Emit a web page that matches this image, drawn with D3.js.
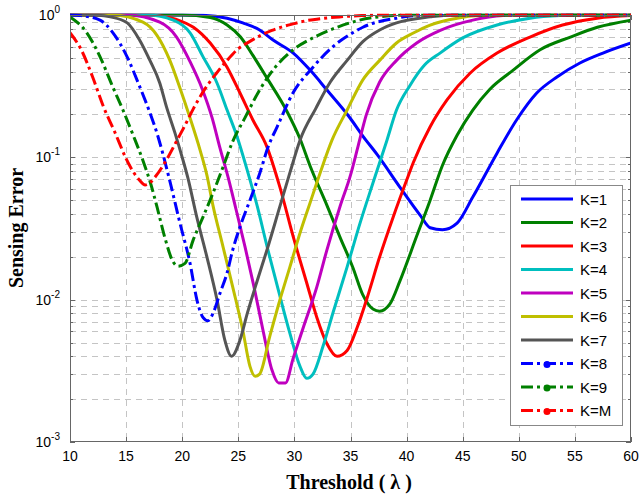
<!DOCTYPE html>
<html><head><meta charset="utf-8">
<script src="https://cdn.jsdelivr.net/npm/d3@7"></script>
<style>body{margin:0;background:#fff}</style>
</head><body>
<svg id="c" width="641" height="497"></svg>
<script>
const seriesNames = ["K=1","K=2","K=3","K=4","K=5","K=6","K=7","K=8","K=9","K=M"];
const seriesColors = ["#0000ff","#008000","#ff0000","#00bfbf","#bf00bf","#bfbf00","#555555","#0000ff","#008000","#ff0000"];
const seriesDashed = [false,false,false,false,false,false,false,true,true,true];
const xTicks = [10,15,20,25,30,35,40,45,50,55,60];
const yTickExps = [0,-1,-2,-3];

const K1 = [[10,1],[20,1],[21.85,0.995],[24,0.95],[25.4,0.88],[26.9,0.785],[28.1,0.667],[29.9,0.54],[31.4,0.41],[32.9,0.297],[34.96,0.189],[36.1,0.141],[37.4,0.104],[39.4,0.0618],[41.2,0.0393],[42.1,0.032],[43.2,0.031],[44.5,0.0345],[45.9,0.0526],[48.06,0.107],[49.8,0.183],[51.6,0.283],[53.4,0.367],[55.45,0.46],[57.5,0.54],[60,0.636]];
const K2 = [[10,1],[20,1],[22.5,0.96],[24,0.85],[25.2,0.70],[26.3,0.52],[27.56,0.36],[29.34,0.21],[30.5,0.135],[31.4,0.087],[32.9,0.046],[34.06,0.0275],[35.2,0.0169],[36.1,0.0108],[37.0,0.0086],[37.6,0.0083],[38.5,0.0093],[39.4,0.0135],[40.9,0.028],[42.1,0.05],[43.2,0.088],[44.5,0.143],[45.9,0.215],[47.4,0.30],[49.5,0.41],[51.9,0.57],[54.6,0.70],[57.0,0.82],[60,0.92]];
const K3 = [[10,1],[17,1],[18,0.99],[19.5,0.93],[21,0.82],[22.5,0.635],[24,0.43],[25.15,0.283],[26.3,0.183],[27.56,0.118],[28.7,0.062],[29.9,0.0276],[31.1,0.0131],[32.0,0.0075],[32.9,0.0049],[33.8,0.0040],[34.7,0.0044],[35.6,0.0064],[36.5,0.0104],[37.6,0.020],[38.8,0.038],[40.0,0.069],[40.6,0.092],[42.1,0.164],[43.6,0.253],[45.65,0.39],[48.06,0.54],[51.0,0.70],[53.9,0.85],[57.0,0.95],[60,0.99]];
const K4 = [[10,1],[16.9,1],[19.2,0.92],[20.7,0.75],[21.85,0.51],[23.1,0.333],[24.0,0.215],[24.9,0.139],[25.8,0.081],[26.7,0.045],[27.6,0.023],[28.45,0.0127],[29.6,0.0058],[30.5,0.0034],[31.1,0.0028],[31.66,0.003],[32.55,0.0047],[33.44,0.0081],[34.7,0.017],[35.85,0.0345],[37.0,0.066],[38.25,0.132],[39.1,0.215],[40.3,0.32],[41.6,0.445],[42.98,0.54],[45.0,0.69],[48.06,0.85],[51.0,0.95],[53.7,0.99],[56,1],[60,1]];
const K5 = [[10,1],[15.1,1],[18.0,0.89],[19.5,0.70],[20.7,0.47],[21.8,0.30],[22.66,0.19],[23.37,0.116],[24.1,0.072],[24.8,0.043],[25.6,0.0235],[26.4,0.0123],[27.2,0.0061],[28.0,0.0032],[28.6,0.0026],[29.2,0.0026],[29.9,0.0039],[30.8,0.0064],[32.0,0.0123],[32.9,0.0224],[34.06,0.045],[35.0,0.075],[35.7,0.122],[36.4,0.198],[37.6,0.338],[39.1,0.48],[40.9,0.636],[43.0,0.78],[45.9,0.92],[48.6,0.99],[51,1],[60,1]];
const K6 = [[10,1],[13.8,1],[16.5,0.89],[17.75,0.72],[18.9,0.48],[19.8,0.307],[20.7,0.189],[21.6,0.112],[22.2,0.075],[22.74,0.046],[23.64,0.0235],[24.5,0.0123],[25.4,0.0061],[26.04,0.0034],[26.5,0.0029],[26.9,0.0030],[27.8,0.0055],[28.7,0.0099],[29.6,0.017],[30.5,0.0294],[31.4,0.048],[32.3,0.078],[33.35,0.132],[34.7,0.215],[36.1,0.35],[37.6,0.48],[39.1,0.636],[40.6,0.747],[42.1,0.85],[44.5,0.95],[46.5,0.99],[49,1],[60,1]];
const K7 = [[10,1],[12.5,0.995],[13.6,0.97],[15.1,0.88],[16.2,0.667],[17.1,0.483],[18.0,0.333],[18.6,0.226],[19.36,0.148],[20.0,0.1],[20.5,0.072],[21.3,0.038],[22.2,0.02],[23.1,0.01],[23.8,0.0052],[24.4,0.0040],[25.15,0.0052],[25.8,0.008],[26.7,0.0137],[27.56,0.0224],[28.7,0.045],[29.6,0.078],[30.5,0.132],[31.9,0.22],[33.2,0.338],[34.7,0.48],[36.1,0.65],[37.6,0.785],[39.1,0.88],[42.1,0.97],[44,1],[60,1]];
const K8 = [[10,1],[11,0.99],[12.67,0.92],[13.83,0.75],[15.08,0.51],[16.24,0.31],[17.13,0.205],[17.75,0.148],[18.29,0.105],[18.9,0.068],[19.8,0.0345],[20.7,0.018],[21.32,0.0099],[21.85,0.0075],[22.3,0.0071],[22.74,0.008],[23.37,0.0111],[24.0,0.0154],[24.5,0.0223],[25.15,0.0324],[26.04,0.05],[26.93,0.078],[27.65,0.118],[28.45,0.163],[29.87,0.283],[31.66,0.43],[33.44,0.6],[35.2,0.75],[36.1,0.82],[39.1,0.95],[40.6,0.99],[42,1],[60,1]];
const K9 = [[10,0.97],[11.5,0.75],[12.67,0.51],[13.83,0.31],[14.72,0.215],[15.6,0.145],[16.5,0.095],[17.2,0.065],[17.75,0.045],[18.47,0.027],[19.18,0.0185],[19.63,0.0172],[20.25,0.018],[20.96,0.026],[21.85,0.038],[22.74,0.056],[23.64,0.0855],[24.44,0.126],[25.6,0.19],[26.93,0.30],[28.3,0.43],[29.9,0.57],[31.8,0.70],[33.8,0.82],[35.8,0.92],[38,0.98],[40,1],[60,1]];
const KM = [[10,0.75],[11,0.57],[12,0.37],[13,0.225],[14,0.15],[15,0.098],[15.6,0.08],[16.2,0.069],[16.7,0.064],[17.2,0.067],[17.6,0.073],[18.6,0.096],[19.5,0.13],[20.2,0.165],[21,0.22],[22,0.30],[23,0.385],[24,0.48],[25,0.58],[26,0.65],[27,0.72],[28,0.78],[29,0.83],[30,0.87],[31,0.91],[32,0.935],[34,0.97],[36,0.99],[38,1],[60,1]];
const seriesData = [K1,K2,K3,K4,K5,K6,K7,K8,K9,KM];

const L = 70, R = 631, T = 15, B = 442;
const svg = d3.select("#c");
const x = d3.scaleLinear().domain([10,60]).range([L,R]);
const y = d3.scaleLog().domain([1e-3,1]).range([B,T]);

// grid
const minorVals = [];
for (let e=-3; e<0; e++) for (let m=1; m<10; m++) minorVals.push(m*Math.pow(10,e));
const grid = svg.append("g").attr("stroke","#c4c4c4").attr("stroke-width",1).attr("stroke-dasharray","6,5");
minorVals.filter(v=>v>1e-3).forEach(v=>{
  grid.append("line").attr("x1",L).attr("x2",R).attr("y1",Math.round(y(v))+0.5).attr("y2",Math.round(y(v))+0.5);
});
xTicks.slice(1,-1).forEach(t=>{
  grid.append("line").attr("x1",Math.round(x(t))+0.5).attr("x2",Math.round(x(t))+0.5).attr("y1",T).attr("y2",B);
});

// ticks
const tk = svg.append("g").attr("stroke","#666").attr("stroke-width",1);
xTicks.forEach(t=>{
  const px = Math.round(x(t))+0.5;
  tk.append("line").attr("x1",px).attr("x2",px).attr("y1",B).attr("y2",B-5);
  tk.append("line").attr("x1",px).attr("x2",px).attr("y1",T).attr("y2",T+5);
});
minorVals.concat([1]).forEach(v=>{
  const py = Math.round(y(v))+0.5;
  const major = Math.abs(Math.log10(v)-Math.round(Math.log10(v)))<1e-9;
  const len = major?5:3;
  tk.append("line").attr("x1",L).attr("x2",L+len).attr("y1",py).attr("y2",py);
  tk.append("line").attr("x1",R).attr("x2",R-len).attr("y1",py).attr("y2",py);
});

// clip
svg.append("defs").append("clipPath").attr("id","clip").append("rect")
  .attr("x",L).attr("y",T-1.5).attr("width",R-L).attr("height",B-T+1.5);

const line = d3.line().x(d=>x(d[0])).y(d=>y(d[1])).curve(d3.curveMonotoneX);
const lines = svg.append("g").attr("clip-path","url(#clip)");
seriesData.forEach((d,i)=>{
  lines.append("path").attr("d",line(d)).attr("fill","none")
    .attr("stroke",seriesColors[i]).attr("stroke-width",3)
    .attr("stroke-linejoin","round")
    .attr("stroke-dasharray",seriesDashed[i]?"12,4,3,4":null);
});

// box
svg.append("rect").attr("x",L+0.5).attr("y",T+0.5).attr("width",R-L-1).attr("height",B-T-1)
  .attr("fill","none").attr("stroke","#666").attr("stroke-width",1);

// tick labels
const font = "'Liberation Sans', Arial, Helvetica, sans-serif";
xTicks.forEach(t=>{
  svg.append("text").attr("x",x(t)).attr("y",461).attr("text-anchor","middle")
    .attr("font-family",font).attr("font-size",14).attr("fill","#000").text(t);
});
yTickExps.forEach(e=>{
  const t = svg.append("text").attr("x",60).attr("y",y(Math.pow(10,e))+5).attr("text-anchor","end")
    .attr("font-family",font).attr("font-size",14).attr("fill","#000");
  t.append("tspan").text("10");
  t.append("tspan").attr("dy",-7).attr("font-size",10).text(String(e));
});

// axis labels
const serif = "'Liberation Serif', 'Times New Roman', serif";
svg.append("text").attr("x",349).attr("y",489).attr("text-anchor","middle")
  .attr("font-family",serif).attr("font-weight","bold").attr("font-size",20).text("Threshold ( λ )");
svg.append("text").attr("transform","translate(23,228) rotate(-90)").attr("text-anchor","middle")
  .attr("font-family",serif).attr("font-weight","bold").attr("font-size",20).text("Sensing Error");

// legend
const lg = svg.append("g");
lg.append("rect").attr("x",510.5).attr("y",185.5).attr("width",112).attr("height",240)
  .attr("fill","#fff").attr("stroke","#888").attr("stroke-width",1);
seriesNames.forEach((n,i)=>{
  const ly = 199 + i*23.5;
  lg.append("line").attr("x1",521).attr("x2",573).attr("y1",ly).attr("y2",ly)
    .attr("stroke",seriesColors[i]).attr("stroke-width",3)
    .attr("stroke-dasharray",seriesDashed[i]?"12,4,3,4":null);
  if (seriesDashed[i]) lg.append("circle").attr("cx",547).attr("cy",ly+1).attr("r",3.5).attr("fill",seriesColors[i]);
  lg.append("text").attr("x",580).attr("y",ly+5.5).attr("font-family",font).attr("font-size",15).attr("fill","#000").text(n);
});
</script>
</body></html>
